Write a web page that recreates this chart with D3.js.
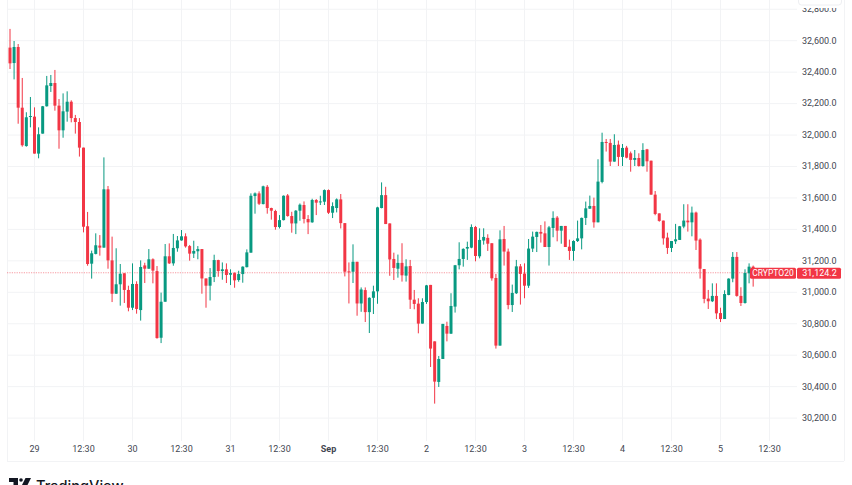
<!DOCTYPE html>
<html>
<head>
<meta charset="utf-8">
<script src="https://cdn.jsdelivr.net/npm/d3@7"></script>
<style>
  html, body { margin: 0; padding: 0; background: #fff; overflow: hidden; }
  svg { display: block; font-family: Roboto, sans-serif; }
</style>
</head>
<body>
<div id="chart"></div>
<script>
const priceTicks = [32800, 32600, 32400, 32200, 32000, 31800, 31600, 31400, 31200, 31000, 30800, 30600, 30400, 30200]
const timeTickIndex = [6, 18, 30, 42, 54, 66, 78, 90, 102, 114, 126, 138, 150, 162, 174, 186]
const timeTickLabels = ['29', '12:30', '30', '12:30', '31', '12:30', 'Sep', '12:30', '2', '12:30', '3', '12:30', '4', '12:30', '5', '12:30']
const symbol = 'CRYPTO20'
const lastPrice = 31124.2

const opens = [
  32556,32458,32560,32174,31930,32115,32117,31882,32009,32183,
  32312,32331,32187,32030,32149,32212,32108,32083,31920,31420,
  31182,31244,31297,31284,31655,31203,30991,31051,31121,31015,
  30902,31053,30887,31171,31150,31210,31135,30711,30940,31229,
  31184,31280,31330,31356,31294,31246,31261,31275,31088,31042,
  31097,31205,31135,31146,31112,31122,31078,31116,31160,31252,
  31612,31629,31561,31671,31536,31517,31415,31459,31616,31485,
  31438,31519,31555,31466,31445,31587,31572,31576,31650,31506,
  31536,31591,31440,31133,31131,31194,30929,31014,30874,30965,
  31006,31536,31618,31438,31212,31150,31187,31106,31167,30953,
  30928,30801,30938,31047,30688,30430,30576,30786,30737,30909,
  31172,31212,31278,31284,31415,31229,31329,31346,31312,31091,
  30661,31339,31259,30919,30994,31165,31119,31042,31278,31352,
  31384,31375,31288,31409,31475,31392,31422,31290,31263,31326,
  31343,31473,31532,31549,31445,31702,31956,31950,31831,31939,
  31861,31920,31884,31842,31854,31803,31909,31837,31621,31502,
  31456,31348,31282,31324,31333,31418,31456,31445,31507,31335,
  31148,30960,30943,30977,30868,30830,30983,31087,31225,30977,
  30932,31121,31163
]
const closes = [
  32456,32560,32174,31935,32113,32121,31882,32005,32183,32316,
  32331,32187,32030,32151,32212,32108,32083,31920,31417,31180,
  31248,31299,31284,31655,31203,30991,31051,31118,31015,30902,
  31053,30894,31161,31150,31210,31138,30709,30940,31229,31184,
  31282,31330,31356,31292,31246,31263,31275,31088,31042,31097,
  31205,31135,31146,31110,31122,31076,31116,31163,31254,31614,
  31629,31563,31674,31536,31519,31415,31459,31614,31485,31438,
  31519,31557,31466,31445,31587,31570,31578,31650,31506,31548,
  31591,31440,31131,31129,31194,30929,31018,30874,30965,31006,
  31540,31618,31434,31209,31155,31187,31108,31165,30953,30926,
  30801,30938,31044,30642,30432,30576,30799,30737,30913,31172,
  31212,31276,31288,31415,31231,31333,31352,31309,31089,30661,
  31337,31259,30919,30996,31165,31117,31042,31278,31354,31384,
  31373,31288,31413,31473,31392,31422,31288,31263,31326,31343,
  31473,31534,31549,31445,31704,31956,31952,31831,31937,31861,
  31918,31856,31842,31854,31803,31905,31833,31621,31498,31454,
  31343,31282,31326,31337,31420,31456,31445,31507,31329,31150,
  30958,30943,30977,30866,30830,30989,31087,31225,30977,30932,
  31123,31163,31124
]
const highs = [
  32675,32598,32579,32363,32145,32242,32176,32049,32185,32376,
  32382,32414,32229,32265,32278,32221,32128,32108,31920,31511,
  31265,31375,31364,31858,31676,31354,31280,31180,31121,31042,
  31184,31070,31203,31188,31275,31216,31167,30998,31307,31311,
  31371,31358,31396,31375,31301,31328,31294,31275,31088,31154,
  31239,31207,31190,31184,31146,31127,31137,31165,31273,31629,
  31635,31642,31678,31682,31538,31525,31491,31616,31625,31512,
  31523,31565,31578,31491,31595,31593,31614,31654,31654,31572,
  31597,31625,31440,31190,31305,31194,31031,31031,30968,31042,
  31544,31699,31671,31438,31252,31240,31312,31210,31206,31015,
  30962,30962,31047,31047,30688,30595,30799,30813,30994,31174,
  31318,31280,31322,31432,31422,31407,31407,31369,31312,31117,
  31394,31422,31278,31049,31206,31180,31184,31339,31386,31386,
  31428,31451,31422,31515,31485,31422,31422,31335,31331,31456,
  31475,31577,31615,31602,31846,32015,31975,31975,32005,31965,
  31943,31931,31895,31905,31884,31948,31912,31837,31644,31502,
  31456,31379,31326,31435,31422,31560,31560,31545,31513,31343,
  31148,31015,31057,31057,30902,31013,31089,31256,31256,31032,
  31146,31184,31170
]
const lows = [
  32420,32354,32072,31926,31926,32049,31882,31852,32009,32181,
  32274,32155,31913,31983,32085,32081,32009,31863,31381,31169,
  31087,31241,31233,31284,31150,30938,30991,30915,30932,30879,
  30887,30864,30820,31059,31150,31057,30705,30677,30940,31180,
  31169,31258,31328,31284,31201,31218,31210,30991,30902,30948,
  31065,31099,31080,31059,31046,31029,31067,31061,31158,31252,
  31500,31555,31559,31500,31462,31398,31406,31457,31481,31379,
  31370,31455,31438,31370,31442,31491,31555,31555,31498,31472,
  31508,31406,31101,30929,31059,30851,30876,30811,30741,30862,
  30927,31534,31434,31105,31078,31093,31068,31068,30894,30892,
  30739,30801,30926,30525,30292,30398,30576,30688,30735,30871,
  31146,31163,31206,31280,31197,31216,31303,31263,31074,30642,
  30661,31170,30892,30875,30989,30922,30962,31028,31256,31256,
  31316,31288,31170,31350,31324,31309,31288,31206,31201,31320,
  31273,31428,31530,31411,31445,31693,31895,31803,31831,31803,
  31803,31852,31767,31803,31799,31799,31767,31621,31490,31449,
  31303,31244,31256,31307,31333,31407,31386,31356,31269,31087,
  30930,30894,30938,30830,30811,30830,30981,31064,30972,30913,
  30928,31057,31036
]

const width = 852
const height = 485
const plotLeft = 7
const plotRight = 797
const plotBottom = 441
const bullColor = '#089981'
const bearColor = '#f23645'
const gridColor = '#f2f3f5'
const textColor = '#434651'

const svg = d3.select('#chart').append('svg')
  .attr('width', width)
  .attr('height', height)
  .attr('viewBox', `0 0 ${width} ${height}`)

const x = d3.scaleLinear().domain([0, 12]).range([10, 59])
const y = d3.scaleLinear().domain([32600, 30200]).range([40.7, 418.1])

// 横向网格和价格标签
const yAxis = d3.axisRight(y)
  .tickValues(priceTicks)
  .tickFormat(d3.format(',.1f'))
  .tickSize(plotRight - plotLeft)
  .tickPadding(5)
  .offset(0)

const yG = svg.append('g')
  .attr('transform', `translate(${plotLeft},0)`)
  .call(yAxis)
yG.select('.domain').remove()
yG.selectAll('line').attr('stroke', gridColor)
yG.selectAll('text')
  .attr('fill', textColor)
  .attr('font-size', 9)
  .attr('font-family', 'Roboto, sans-serif')

// 纵向网格和时间标签
const xAxis = d3.axisBottom(x)
  .tickValues(timeTickIndex)
  .tickFormat((d, i) => timeTickLabels[i])
  .tickSize(plotBottom)
  .tickPadding(5)
  .offset(0)

const xG = svg.append('g').call(xAxis)
xG.select('.domain').remove()
xG.selectAll('line').attr('stroke', gridColor)
xG.selectAll('text')
  .attr('fill', textColor)
  .attr('font-size', 9)
  .attr('font-family', 'Roboto, sans-serif')
  .attr('font-weight', d => timeTickLabels[timeTickIndex.indexOf(d)] === 'Sep' ? 700 : 400)

// 面板边框
svg.append('line').attr('x1', plotLeft + 0.5).attr('x2', plotLeft + 0.5).attr('y1', 0).attr('y2', 461).attr('stroke', gridColor)
svg.append('line').attr('x1', plotLeft).attr('x2', 844).attr('y1', 461.5).attr('y2', 461.5).attr('stroke', gridColor)
svg.append('line').attr('x1', 844.5).attr('x2', 844.5).attr('y1', 0).attr('y2', 461).attr('stroke', gridColor)

// 顶部被遮挡的标签框，盖住 32,800.0 的上半部分
svg.append('rect')
  .attr('x', 798).attr('y', 0).attr('width', 45).attr('height', 8)
  .attr('fill', '#fff')
svg.append('rect')
  .attr('x', 798.5).attr('y', -12).attr('width', 43).attr('height', 17).attr('rx', 3)
  .attr('fill', '#fff').attr('stroke', '#eeeff2')

// 最新价虚线
svg.append('line')
  .attr('x1', plotLeft).attr('x2', 750)
  .attr('y1', y(lastPrice)).attr('y2', y(lastPrice))
  .attr('stroke', bearColor).attr('stroke-opacity', 0.5)
  .attr('stroke-width', 1.2)
  .attr('stroke-dasharray', '1.2 1.2')

const candles = d3.range(opens.length)
const color = i => closes[i] >= opens[i] ? bullColor : bearColor

const candleG = svg.append('g')

candleG.selectAll('line')
  .data(candles)
  .enter()
  .append('line')
  .attr('x1', i => x(i))
  .attr('x2', i => x(i))
  .attr('y1', i => y(highs[i]))
  .attr('y2', i => y(lows[i]))
  .attr('stroke', color)
  .attr('stroke-width', 1)

candleG.selectAll('rect')
  .data(candles)
  .enter()
  .append('rect')
  .attr('x', i => x(i) - 1.5)
  .attr('width', 3)
  .attr('y', i => y(Math.max(opens[i], closes[i])))
  .attr('height', i => Math.max(1, Math.abs(y(opens[i]) - y(closes[i]))))
  .attr('fill', color)

// 右侧价格标签
const labelTop = y(lastPrice) - 5
const label = svg.append('g')
label.append('rect').attr('x', 750).attr('y', labelTop).attr('width', 46).attr('height', 11).attr('rx', 1.5).attr('fill', bearColor)
label.append('rect').attr('x', 797).attr('y', labelTop).attr('width', 44).attr('height', 11).attr('rx', 1.5).attr('fill', bearColor)
label.append('text').attr('x', 773).attr('y', labelTop + 8.5).attr('text-anchor', 'middle').attr('fill', '#fff').attr('font-size', 8.5).text(symbol)
label.append('text').attr('x', 819.5).attr('y', labelTop + 8.5).attr('text-anchor', 'middle').attr('fill', '#fff').attr('font-size', 9).text(d3.format(',.1f')(lastPrice))

// TradingView 标志，底部被裁切
const logo = svg.append('g').attr('fill', '#131722')
logo.append('path').attr('d', 'M9 478H18V488H13.5V482H9Z')
logo.append('circle').attr('cx', 21).attr('cy', 480).attr('r', 1.8)
logo.append('path').attr('d', 'M25.5 478H31L26 488H20.5Z')
logo.append('text')
  .attr('x', 36).attr('y', 490.5)
  .attr('font-size', 14.6).attr('font-weight', 500)
  .attr('font-family', 'Inter, Roboto, sans-serif')
  .text('TradingView')
</script>
</body>
</html>
